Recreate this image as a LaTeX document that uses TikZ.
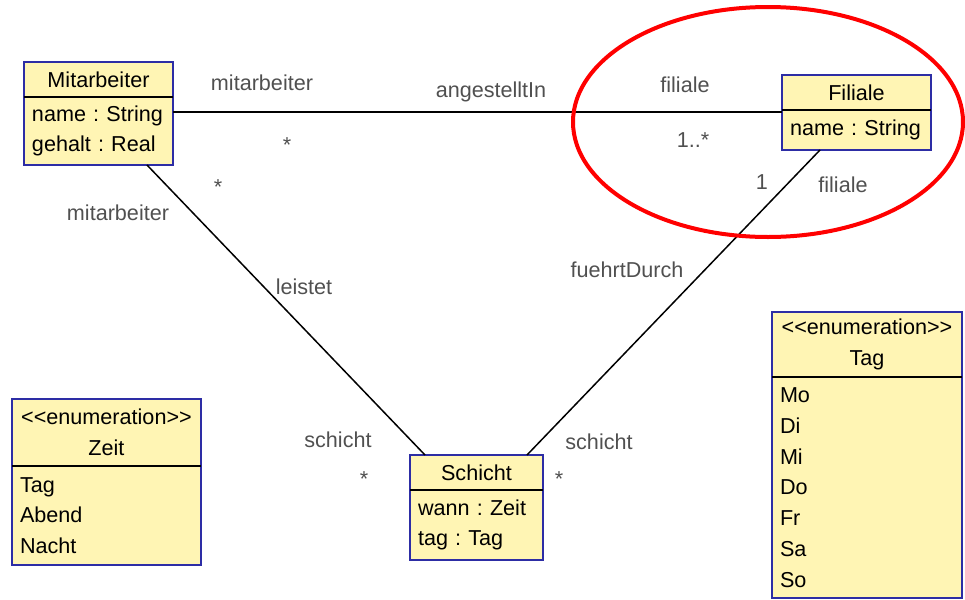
\documentclass[tikz,border=0pt]{standalone}
\usepackage{fontspec}
\setmainfont{Liberation Sans}
\usetikzlibrary{positioning}
\definecolor{classfill}{RGB}{255,245,180}
\definecolor{classline}{RGB}{45,45,165}
\definecolor{rolegray}{RGB}{80,80,80}
\tikzstyle{classhead}=[rectangle, draw=classline, fill=classfill, line width=1pt, outer sep=0pt, inner sep=2pt, align=center, anchor=north west]
\tikzstyle{classbody}=[rectangle, draw=classline, fill=classfill, line width=1pt, outer sep=0pt, inner xsep=4pt, inner ysep=2pt, align=left]
\tikzstyle{split}=[draw=black, line width=0.75pt]
\tikzstyle{assoc}=[draw=black, line width=0.75pt]
\tikzstyle{role}=[text=rolegray, inner sep=0pt]
\newcommand{\enumstereo}{<\kern0pt<enumeration>\kern0pt>}

\begin{document}
\frenchspacing
\begin{tikzpicture}[x=0.5pt, y=-0.5pt, font=\fontsize{10.8}{15.4}\selectfont]
      \useasboundingbox (0,0) rectangle (965,600);

      % classes
      \node[classhead, minimum width=74.5pt, minimum height=17.5pt] (m-head) at (24,62) {Mitarbeiter};
      \node[classbody, text width=66.5pt, minimum height=34pt, below=0pt of m-head] (m-body) {name : String\\gehalt : Real};
      \draw[split] (m-head.south west) -- (m-head.south east);

      \node[classhead, minimum width=74.5pt, minimum height=17.5pt] (f-head) at (782,75) {Filiale};
      \node[classbody, text width=66.5pt, minimum height=20pt, below=0pt of f-head] (f-body) {name : String};
      \draw[split] (f-head.south west) -- (f-head.south east);

      \node[classhead, minimum width=66.5pt, minimum height=17.5pt] (s-head) at (410,455) {Schicht};
      \node[classbody, text width=58.5pt, minimum height=35pt, below=0pt of s-head] (s-body) {wann : Zeit\\tag : Tag};
      \draw[split] (s-head.south west) -- (s-head.south east);

      \node[classhead, minimum width=94.5pt, minimum height=33.5pt] (z-head) at (12,399) {\enumstereo\\Zeit};
      \node[classbody, text width=86.5pt, minimum height=49.5pt, below=0pt of z-head] (z-body) {Tag\\Abend\\Nacht};
      \draw[split] (z-head.south west) -- (z-head.south east);

      \node[classhead, minimum width=95pt, minimum height=32.5pt] (t-head) at (772,312) {\enumstereo\\Tag};
      \node[classbody, text width=87pt, minimum height=110.5pt, below=0pt of t-head] (t-body) {Mo\\Di\\Mi\\Do\\Fr\\Sa\\So};
      \draw[split] (t-head.south west) -- (t-head.south east);

      % associations
      \coordinate (f-in) at ([yshift=-1pt]f-body.north west);
      \draw[assoc] (m-body.east |- f-in) -- (f-in);
      \draw[assoc] ([xshift=-13pt]m-body.south east) -- ([xshift=7.5pt]s-head.north west);
      \draw[assoc] ([xshift=19pt]f-body.south west) -- ([xshift=-8pt]s-head.north east);

      % role names and multiplicities
      \node[role] (r-mit1) at (262,83) {mitarbeiter};
      \node[role] (a-ang) at (491,92) {angestelltIn};
      \node[role] (r-fil1) at (685,85) {filiale};
      \node[role] (k-mit1) at (287,145) {*};
      \node[role] (k-fil1) at (693,140) {1..*};
      \node[role] (k-mit2) at (218,187) {*};
      \node[role] (r-mit2) at (118,213) {mitarbeiter};
      \node[role] (a-lei) at (304,287) {leistet};
      \node[role] (k-fil2) at (762,182) {1};
      \node[role] (r-fil2) at (843,185) {filiale};
      \node[role] (a-fue) at (627,270) {fuehrtDurch};
      \node[role] (r-sch1) at (338,440) {schicht};
      \node[role] (k-sch1) at (364,479) {*};
      \node[role] (r-sch2) at (599,442) {schicht};
      \node[role] (k-sch2) at (559,479) {*};

      % highlight
      \draw[red, line width=2pt] (768,122) ellipse [x radius=97.5pt, y radius=57.5pt];
\end{tikzpicture}
\end{document}
